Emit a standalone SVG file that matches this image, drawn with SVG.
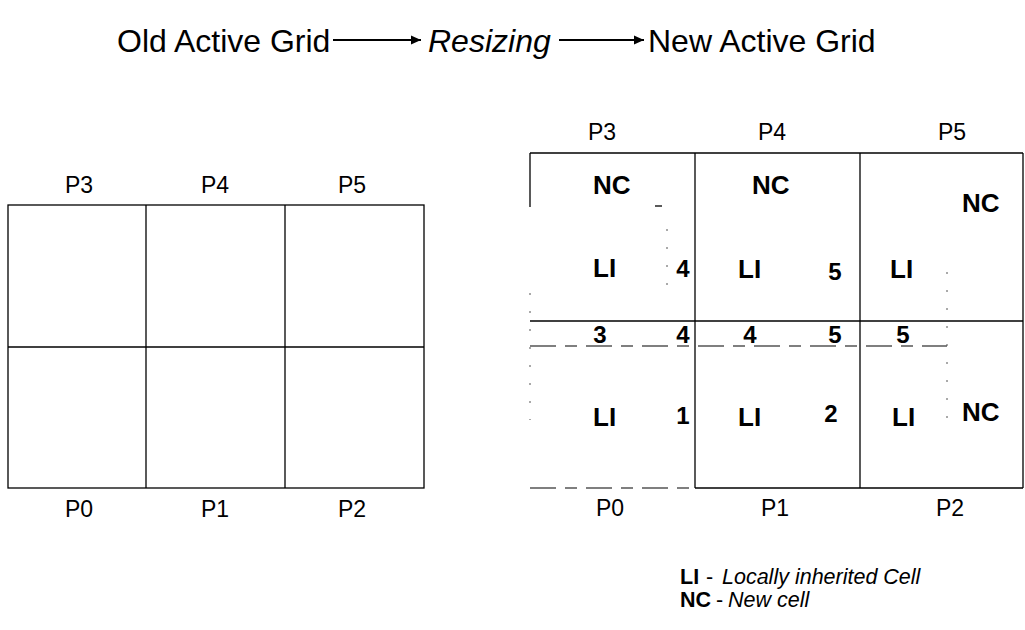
<svg xmlns="http://www.w3.org/2000/svg" width="1025" height="630" viewBox="0 0 1025 630">
  <defs>
    <marker id="arrowhead" viewBox="0 0 10 10" refX="10" refY="5" markerWidth="11" markerHeight="10" markerUnits="userSpaceOnUse" orient="auto">
      <path d="M0,0.5 L10,5 L0,9.5 Z" fill="#000"/>
    </marker>
    <style>
      text { font-family: "Liberation Sans", Arial, sans-serif; fill: #000; }
      .title { font-size: 32px; }
      .ital { font-style: italic; }
      .plabel { font-size: 23px; text-anchor: middle; }
      .tag { font-size: 26px; font-weight: bold; }
      .num { font-size: 24px; font-weight: bold; text-anchor: middle; }
      .legend { font-size: 21.5px; }
      .grid { stroke: #000; stroke-width: 1.3; fill: none; }
      .faint { stroke: #555; stroke-width: 1; fill: none; stroke-dasharray: 2 16; }
      .dash { stroke: #000; stroke-width: 1.2; fill: none; stroke-dasharray: 26 9 12 9; }
      .flow { stroke: #000; stroke-width: 2; fill: none; marker-end: url(#arrowhead); }
    </style>
  </defs>

  <!-- header: old grid -> resizing -> new grid -->
  <g id="title-old"><text class="title" x="117" y="52">Old Active Grid</text></g>
  <g id="title-resize"><text class="title ital" x="428" y="52">Resizing</text></g>
  <g id="title-new"><text class="title" x="648" y="52">New Active Grid</text></g>
  <g id="connectors">
    <line class="flow" x1="333" y1="40" x2="421" y2="40"/>
    <line class="flow" x1="559" y1="40" x2="644" y2="40"/>
  </g>

  <!-- old 3x2 processor grid -->
  <g id="old-grid">
    <rect class="grid" x="8" y="205" width="416" height="283"/>
    <line class="grid" x1="146" y1="205" x2="146" y2="488"/>
    <line class="grid" x1="285" y1="205" x2="285" y2="488"/>
    <line class="grid" x1="8" y1="347" x2="424" y2="347"/>
    <text class="plabel" x="79" y="193">P3</text>
    <text class="plabel" x="215" y="193">P4</text>
    <text class="plabel" x="352" y="193">P5</text>
    <text class="plabel" x="79" y="517">P0</text>
    <text class="plabel" x="215" y="517">P1</text>
    <text class="plabel" x="352" y="517">P2</text>
  </g>

  <!-- new, enlarged processor grid -->
  <g id="new-grid">
    <line class="grid" x1="530" y1="153" x2="1023" y2="153"/>
    <line class="grid" x1="530" y1="153" x2="530" y2="207"/>
    <line class="grid" x1="695" y1="153" x2="695" y2="488"/>
    <line class="grid" x1="860" y1="153" x2="860" y2="488"/>
    <line class="grid" x1="1023" y1="153" x2="1023" y2="488"/>
    <line class="grid" x1="530" y1="321" x2="1023" y2="321"/>
    <line class="grid" x1="695" y1="488" x2="1023" y2="488"/>
    <!-- traces of the old cell boundaries -->
    <line class="dash" x1="530" y1="488" x2="695" y2="488"/>
    <line class="dash" x1="530" y1="346" x2="947" y2="346"/>
    <line class="faint" x1="530" y1="293" x2="530" y2="420"/>
    <line class="faint" x1="667" y1="229" x2="667" y2="300"/>
    <line class="faint" x1="947" y1="272" x2="947" y2="430"/>
    <line class="grid" x1="655" y1="206" x2="662" y2="206"/>
    <text class="plabel" x="602" y="140">P3</text>
    <text class="plabel" x="772" y="140">P4</text>
    <text class="plabel" x="952" y="140">P5</text>
    <text class="plabel" x="610" y="516">P0</text>
    <text class="plabel" x="775" y="516">P1</text>
    <text class="plabel" x="950" y="516">P2</text>
  </g>

  <g id="cell-p3">
    <text class="tag" x="593" y="194">NC</text>
    <text class="tag" x="593" y="277">LI</text>
    <text class="num" x="683" y="277">4</text>
  </g>
  <g id="cell-p4">
    <text class="tag" x="752" y="194">NC</text>
    <text class="tag" x="738" y="278">LI</text>
    <text class="num" x="835" y="280">5</text>
  </g>
  <g id="cell-p5">
    <text class="tag" x="962" y="212">NC</text>
    <text class="tag" x="890" y="278">LI</text>
  </g>
  <g id="edge-numbers">
    <text class="num" x="600" y="343">3</text>
    <text class="num" x="683" y="343">4</text>
    <text class="num" x="750" y="343">4</text>
    <text class="num" x="835" y="343">5</text>
    <text class="num" x="903" y="343">5</text>
  </g>
  <g id="cell-p0">
    <text class="tag" x="593" y="426">LI</text>
    <text class="num" x="683" y="424">1</text>
  </g>
  <g id="cell-p1">
    <text class="tag" x="738" y="426">LI</text>
    <text class="num" x="831" y="422">2</text>
  </g>
  <g id="cell-p2">
    <text class="tag" x="892" y="426">LI</text>
    <text class="tag" x="962" y="421">NC</text>
  </g>

  <!-- key -->
  <g id="legend">
    <text class="legend" y="584"><tspan x="680" font-weight="bold">LI</tspan><tspan x="706">-</tspan><tspan x="722" class="ital">Locally inherited Cell</tspan></text>
    <text class="legend" y="607"><tspan x="680" font-weight="bold">NC</tspan><tspan x="716">-</tspan><tspan x="728" class="ital">New cell</tspan></text>
  </g>
</svg>
